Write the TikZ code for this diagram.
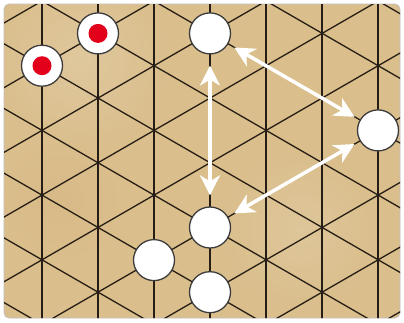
\documentclass[tikz,border=0pt]{standalone}
\usetikzlibrary{arrows.meta}
\definecolor{boardtan}{RGB}{218,190,140}
\definecolor{boardline}{RGB}{38,30,20}
\definecolor{piecered}{RGB}{226,0,26}
\definecolor{pieceedge}{RGB}{60,60,60}
\begin{document}
\begin{tikzpicture}[x=1pt,y=-1pt,
  gridline/.style={draw=boardline,line width=1.3pt},
  piece/.style={circle,fill=white,draw=pieceedge,line width=1.3pt,minimum size=41pt,inner sep=0pt},
  reddot/.style={circle,fill=piecered,minimum size=19pt,inner sep=0pt},
  moveline/.style={draw=white,line width=3.5pt,{Stealth[length=20pt,width=20pt,inset=6pt]}-{Stealth[length=20pt,width=20pt,inset=6pt]}}]
\useasboundingbox (0,0) rectangle (404,322);
\fill[white] (0,0) rectangle (404,322);
\path[fill=boardtan,draw=black!25,line width=0.6pt,rounded corners=5pt] (4,4) rectangle (400,318);
\begin{scope}
\clip[rounded corners=5pt] (4,4) rectangle (400,318);
\shade[inner color=boardtan!70!white,outer color=boardtan,opacity=0.5] (80,60) circle (90);
\shade[inner color=boardtan!75!white,outer color=boardtan,opacity=0.5] (300,230) circle (80);
\shade[inner color=boardtan!85!brown,outer color=boardtan,opacity=0.4] (60,200) circle (60);
\foreach \i in {0,...,6}{
  \pgfmathsetmacro{\xx}{42+56*\i}
  \draw[gridline] (\xx,0) -- (\xx,322);
}
\foreach \k in {-6,...,4}{
  \pgfmathsetmacro{\c}{106.15+64.7*\k}
  \pgfmathsetmacro{\d}{\c+233.25}
  \draw[gridline] (0,\c) -- (404,\d);
}
\foreach \k in {-3,...,7}{
  \pgfmathsetmacro{\c}{154.65+64.7*\k}
  \pgfmathsetmacro{\d}{\c-233.25}
  \draw[gridline] (0,\c) -- (404,\d);
}
\end{scope}
\node[piece] (r1) at (42,65.7) {};
\node[reddot] (r1dot) at (r1.center) {};
\node[piece] (r2) at (98,33.4) {};
\node[reddot] (r2dot) at (r2.center) {};
\node[piece] (wtop) at (210,33.4) {};
\node[piece] (wright) at (378,130.4) {};
\node[piece] (wmid) at (210,227.5) {};
\node[piece] (wleft) at (154,260.1) {};
\node[piece] (wbot) at (210,292.2) {};
\draw[moveline,shorten <=11pt,shorten >=11pt] (wtop) -- (wmid);
\draw[moveline,shorten <=7pt,shorten >=6pt] (wtop) -- (wright);
\draw[moveline,shorten <=6pt,shorten >=7pt] (wright) -- (wmid);
\end{tikzpicture}
\end{document}
